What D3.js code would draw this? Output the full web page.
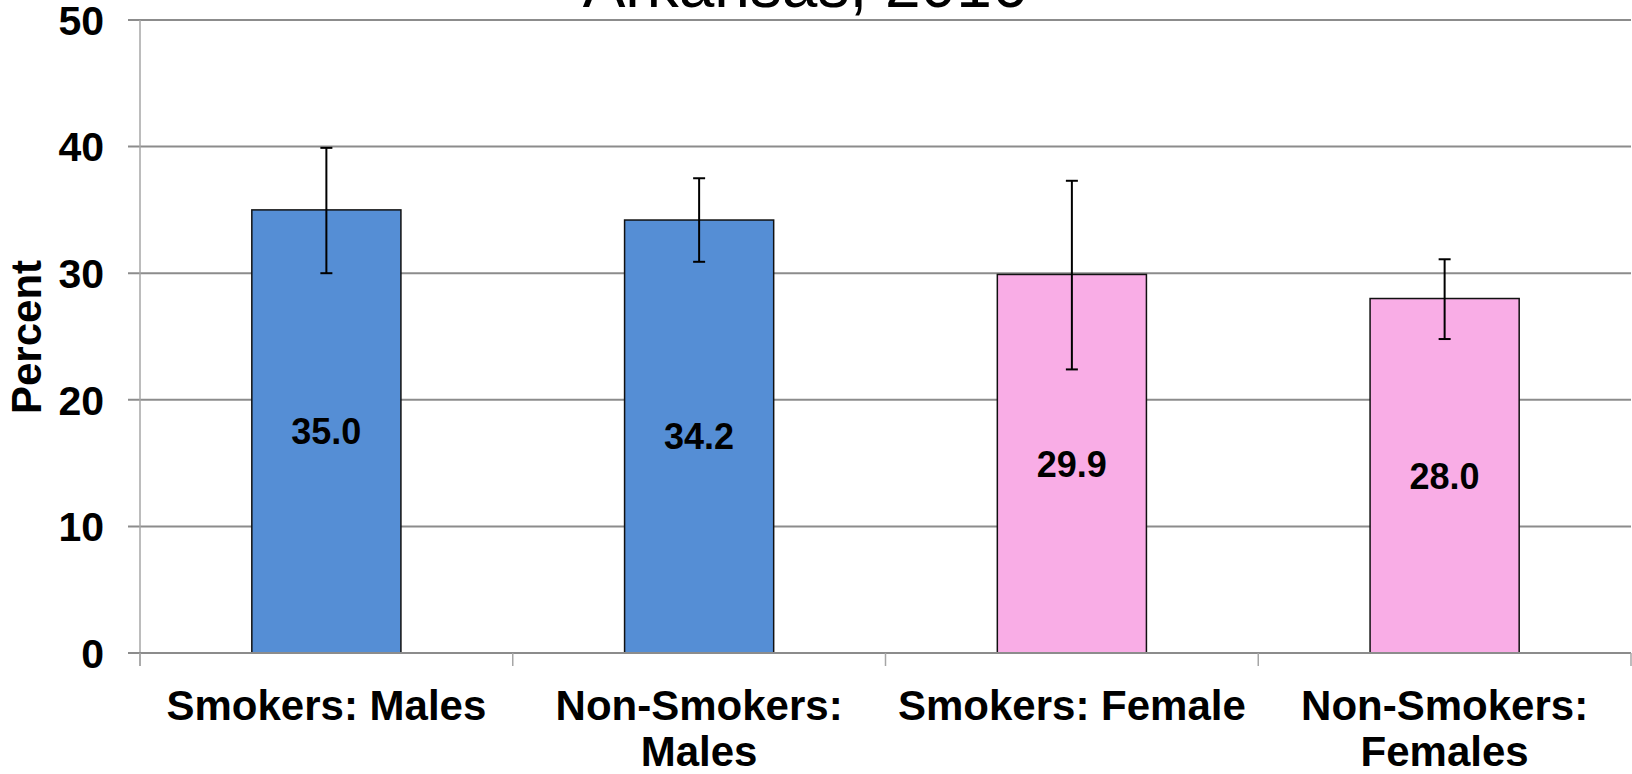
<!DOCTYPE html>
<html>
<head>
<meta charset="utf-8">
<script src="https://cdn.jsdelivr.net/npm/d3@7"></script>
<style>
  html, body { margin: 0; padding: 0; background: #fff; }
  svg { display: block; }
  text { font-family: "Liberation Sans", Arial, Helvetica, sans-serif; }
</style>
</head>
<body>
<svg id="chart" width="1632" height="774"></svg>
<script>
const categories = [["Smokers: Males"], ["Non-Smokers:", "Males"], ["Smokers: Female"], ["Non-Smokers:", "Females"]];
const values = [35.0, 34.2, 29.9, 28.0];
const errLow = [30.0, 30.9, 22.4, 24.8];
const errHigh = [39.9, 37.5, 37.3, 31.1];
const barColors = ["#558ED5", "#558ED5", "#F9ADE6", "#F9ADE6"];
const yTicks = [0, 10, 20, 30, 40, 50];
const titleText = "Arkansas, 2016";
const yTitle = "Percent";

const svg = d3.select("#chart");
const pL = 140, pR = 1631, pT = 20, pB = 653;
const keys = categories.map((c, i) => i);

const x = d3.scaleBand().domain(keys).range([pL, pR]).paddingInner(0.6).paddingOuter(0.3);
const y = d3.scaleLinear().domain([0, 50]).range([pB, pT]);

// title (partially clipped at top, as in the original)
svg.append("text").attr("x", 805).attr("y", 7).attr("text-anchor", "middle")
  .attr("font-size", 64).attr("fill", "#000").text(titleText);

// gridlines
svg.append("g").selectAll("line").data(yTicks.filter(d => d > 0)).join("line")
  .attr("x1", pL - 12).attr("x2", pR).attr("y1", d => y(d)).attr("y2", d => y(d))
  .attr("stroke", "#8c8c8c").attr("stroke-width", 2);

// y axis line
svg.append("line").attr("x1", pL).attr("x2", pL).attr("y1", pT).attr("y2", pB + 13)
  .attr("stroke", "#a6a6a6").attr("stroke-width", 1.5);

// y tick labels
svg.append("g").selectAll("text").data(yTicks).join("text")
  .attr("x", 104).attr("y", d => y(d)).attr("dy", "0.36em").attr("text-anchor", "end")
  .attr("font-size", 41).attr("font-weight", "bold").text(d => d);

// y title
svg.append("text").attr("transform", "translate(41,337) rotate(-90)").attr("text-anchor", "middle")
  .attr("font-size", 42).attr("font-weight", "bold").text(yTitle);

// bars
svg.append("g").selectAll("rect").data(values).join("rect")
  .attr("x", (d, i) => x(i)).attr("width", x.bandwidth())
  .attr("y", d => y(d)).attr("height", d => y(0) - y(d))
  .attr("fill", (d, i) => barColors[i]).attr("stroke", "#111").attr("stroke-width", 1.5);

// x axis line + ticks
svg.append("line").attr("x1", pL - 12).attr("x2", pR).attr("y1", pB).attr("y2", pB)
  .attr("stroke", "#8c8c8c").attr("stroke-width", 2);
const bounds = keys.map(i => i === 0 ? pL : x(i) - (x.step() - x.bandwidth()) / 2);
bounds.push(pR);
svg.append("g").selectAll("line").data(bounds).join("line")
  .attr("x1", d => d).attr("x2", d => d).attr("y1", pB).attr("y2", pB + 13)
  .attr("stroke", "#a6a6a6").attr("stroke-width", 1.5);

// error bars
const eg = svg.append("g").attr("stroke", "#000").attr("stroke-width", 2);
values.forEach((v, i) => {
  const cx = x(i) + x.bandwidth() / 2;
  eg.append("line").attr("x1", cx).attr("x2", cx).attr("y1", y(errHigh[i])).attr("y2", y(errLow[i]));
  eg.append("line").attr("x1", cx - 6).attr("x2", cx + 6).attr("y1", y(errHigh[i])).attr("y2", y(errHigh[i]));
  eg.append("line").attr("x1", cx - 6).attr("x2", cx + 6).attr("y1", y(errLow[i])).attr("y2", y(errLow[i]));
});

// value labels
svg.append("g").selectAll("text").data(values).join("text")
  .attr("x", (d, i) => x(i) + x.bandwidth() / 2).attr("y", d => y(d / 2)).attr("dy", "0.36em")
  .attr("text-anchor", "middle").attr("font-size", 36).attr("font-weight", "bold")
  .text(d => d.toFixed(1));

// x labels
const xl = svg.append("g").selectAll("text").data(categories).join("text")
  .attr("x", (d, i) => x(i) + x.bandwidth() / 2).attr("y", 720)
  .attr("text-anchor", "middle").attr("font-size", 42).attr("font-weight", "bold");
xl.each(function(lines, i) {
  const t = d3.select(this);
  lines.forEach((ln, j) => {
    t.append("tspan").attr("x", x(i) + x.bandwidth() / 2).attr("y", 720 + j * 46).text(ln);
  });
});
</script>
</body>
</html>
